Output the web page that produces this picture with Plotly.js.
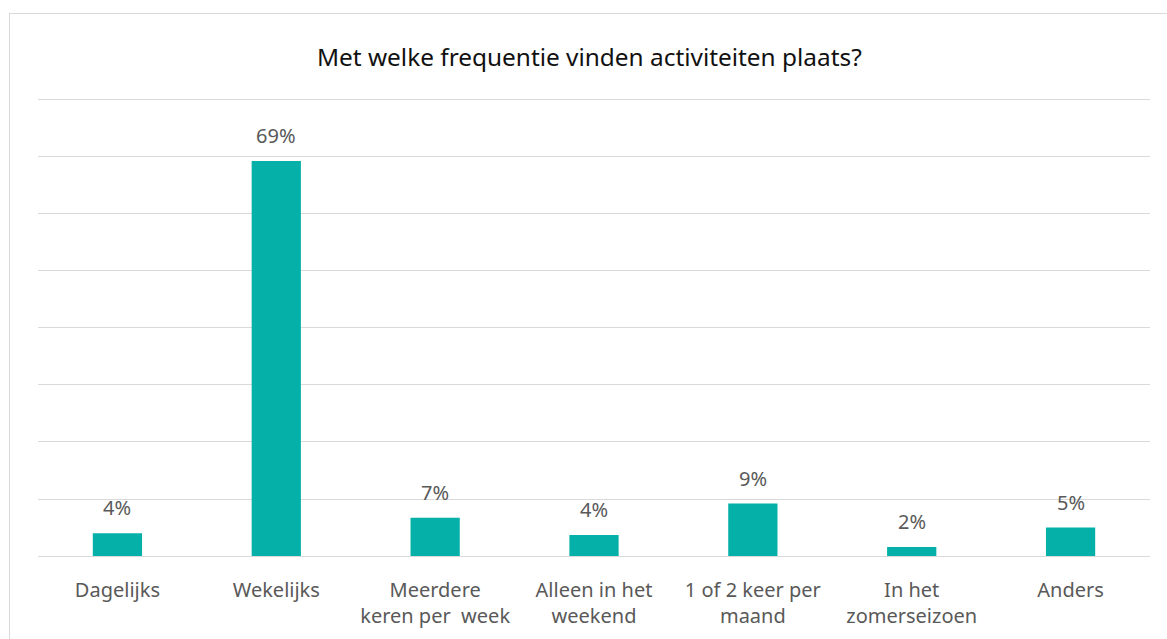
<!DOCTYPE html>
<html><head><meta charset="utf-8">
<script src="https://cdn.plot.ly/plotly-3.0.1.min.js"></script>
<style>
html,body{margin:0;padding:0;background:#fff;}
#wrap{position:relative;width:1167px;height:639px;overflow:hidden;}
#chart{width:1167px;height:639px;}
#frame{position:absolute;left:9px;top:13px;width:1170px;height:640px;border:1px solid #D9D9D9;pointer-events:none;}
</style></head>
<body><div id="wrap"><div id="chart"></div><div id="frame"></div></div>
<script>
const categories = ["Dagelijks","Wekelijks","Meerdere<br>keren per  week","Alleen in het<br>weekend","1 of 2 keer per<br>maand","In het<br>zomerseizoen","Anders"];
const values = [4.0, 69.3, 6.7, 3.7, 9.2, 1.6, 5.0];
const labels = values.map(v => Math.round(v) + "%");
const titleText = "Met welke frequentie vinden activiteiten plaats?";
const FONT = "Noto Sans, Open Sans, sans-serif";
const TXT = "#595959";

const trace = {
  type: "bar", x: categories, y: values,
  marker: {color: "#05B0A9"},
  hoverinfo: "skip"
};
const annotations = categories.map((c, i) => ({
  x: c, y: values[i], text: labels[i], showarrow: false,
  yanchor: "bottom", yshift: 10, font: {family: FONT, size: 20, color: TXT}
}));
const layout = {
  width: 1167, height: 639,
  margin: {l: 38, r: 17, t: 88, b: 83},
  paper_bgcolor: "#fff", plot_bgcolor: "#fff",
  title: {text: titleText, x: 0.505, xanchor: "center", y: 0.91, yanchor: "middle",
          font: {family: FONT, size: 24.4, color: "#111"}},
  bargap: 0.69,
  showlegend: false,
  xaxis: {type: "category", showline: false, ticks: "", ticklabelstandoff: 20,
          tickfont: {family: FONT, size: 20, color: TXT}, automargin: false},
  yaxis: {range: [0, 82.1], tickvals: [0,10,20,30,40,50,60,70,80], showticklabels: false, showgrid: true,
          gridcolor: "#D9D9D9", gridwidth: 1,
          zeroline: true, zerolinecolor: "#D9D9D9", zerolinewidth: 1, fixedrange: true},
  annotations: annotations
};
Plotly.newPlot("chart", [trace], layout, {displayModeBar: false, staticPlot: true});
</script></body></html>
